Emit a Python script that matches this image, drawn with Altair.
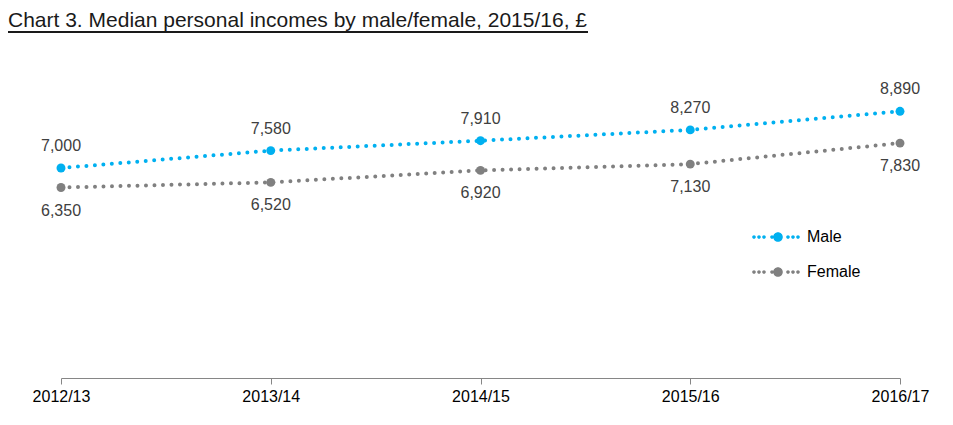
import altair as alt
import pandas as pd

title_text = "Chart 3. Median personal incomes by male/female, 2015/16, £"
years = ["2012/13", "2013/14", "2014/15", "2015/16", "2016/17"]
male = [7000, 7580, 7910, 8270, 8890]
female = [6350, 6520, 6920, 7130, 7830]
series = ["Male", "Female"]
colors = ["#00B0F0", "#808080"]

rows = []
for y, v in zip(years, male):
    rows.append({"year": y, "value": v, "series": "Male"})
for y, v in zip(years, female):
    rows.append({"year": y, "value": v, "series": "Female"})
df = pd.DataFrame(rows)

FONT = "Liberation Sans"
R = 25.0


def circ(cx, r):
    return (f"M{(cx - r) / R:.4f},0a{r / R:.4f},{r / R:.4f} 0 1,0 {2 * r / R:.4f},0"
            f"a{r / R:.4f},{r / R:.4f} 0 1,0 {-2 * r / R:.4f},0Z")


sym_path = "".join(circ(c, 1.8) for c in [-24, -19, -14, -6, 10, 15, 20]) + circ(0, 4.8)

x_enc = alt.X("year:N", sort=years, scale=alt.Scale(type="point", padding=0),
              axis=alt.Axis(title=None, labelAngle=0, domainColor="#868686",
                            tickColor="#868686", tickSize=6, labelFontSize=16,
                            labelColor="#000000", labelPadding=4, labelFont=FONT,
                            grid=False))
y_enc = alt.Y("value:Q", scale=alt.Scale(domain=[0, 11000]), axis=None)
color_scale = alt.Scale(domain=series, range=colors)
legend = alt.Legend(title=None, orient="none", legendX=692, legendY=164,
                    symbolType=sym_path, symbolSize=2500,
                    symbolStrokeWidth=0,
                    labelFontSize=16, labelFont=FONT, labelColor="#000000",
                    labelOffset=4)
color_enc = alt.Color("series:N", scale=color_scale, sort=series, legend=legend)

base = alt.Chart(df)

lines = base.mark_line(strokeWidth=4, strokeDash=[0, 8.5], strokeCap="round").encode(
    x=x_enc, y=y_enc, color=color_enc,
)

points = base.mark_point(filled=True, size=80, opacity=1).encode(
    x=x_enc, y=y_enc, color=color_enc,
)

male_labels = base.transform_filter(alt.datum.series == "Male").mark_text(
    dy=-22, fontSize=16, font=FONT, color="#404040", baseline="middle").encode(
    x=x_enc, y=y_enc, text=alt.Text("value:Q", format=","))

female_labels = base.transform_filter(alt.datum.series == "Female").mark_text(
    dy=23, fontSize=16, font=FONT, color="#404040", baseline="middle").encode(
    x=x_enc, y=y_enc, text=alt.Text("value:Q", format=","))

tdf = pd.DataFrame({"t": [title_text]})
title = alt.Chart(tdf).mark_text(align="left", baseline="alphabetic", fontSize=21,
                                 font=FONT, color="#1a1a1a").encode(
    x=alt.value(-53), y=alt.value(-21), text="t:N")
underline = alt.Chart(tdf).mark_rule(strokeWidth=2, color="#1a1a1a").encode(
    x=alt.value(-53), x2=alt.value(527), y=alt.value(-16))

chart = alt.layer(lines, points, male_labels, female_labels, title, underline).properties(
    width=839, height=330,
    autosize=alt.AutoSizeParams(type="none"),
    padding={"left": 53, "top": 40, "right": 40, "bottom": 36},
).configure_view(stroke=None)

chart.save("out.html", embed_options={"renderer": "svg", "actions": False})
